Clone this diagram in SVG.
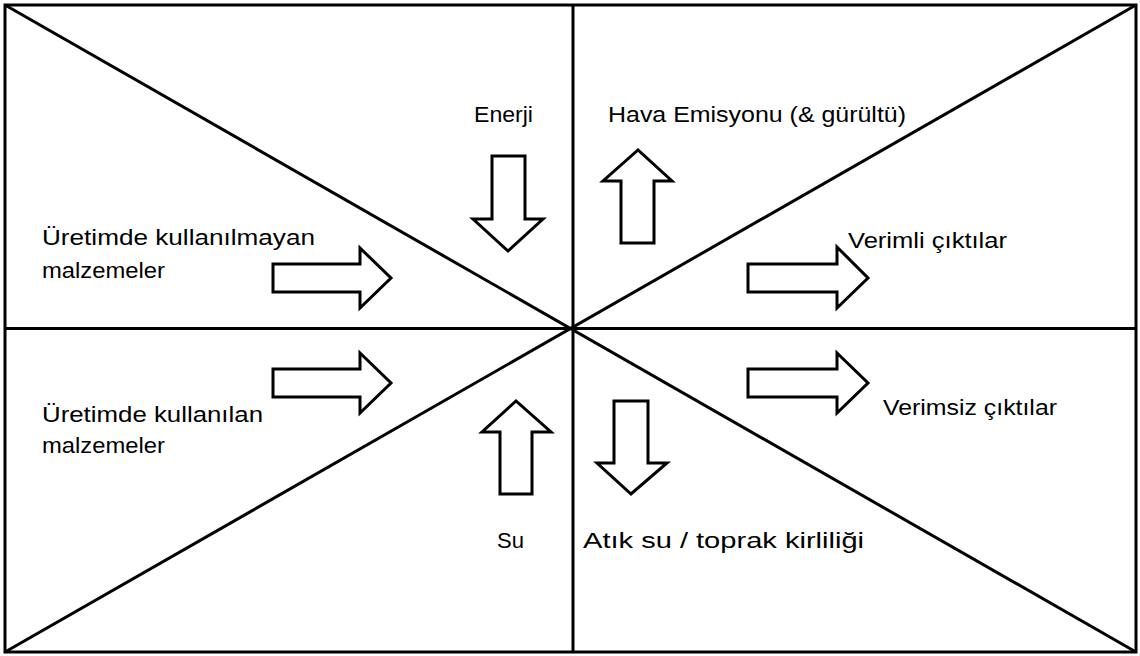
<svg xmlns="http://www.w3.org/2000/svg" width="1140" height="656" viewBox="0 0 1140 656">
<style>
.ln{stroke:#000;stroke-width:3;fill:none}
.ar{fill:#fff;stroke:#000;stroke-width:3;stroke-linejoin:miter}
.t{font-family:"Liberation Sans",Arial,sans-serif;font-size:22.5px;fill:#000}
</style>
<rect width="1140" height="656" fill="#fff"/>
<g id="connectors">
<rect class="ln" x="5" y="5" width="1131" height="647"/>
<line class="ln" x1="573" y1="5" x2="573" y2="652"/>
<line class="ln" x1="5" y1="328.5" x2="1136" y2="328.5"/>
<line class="ln" x1="5" y1="5" x2="1136" y2="652"/>
<line class="ln" x1="5" y1="652" x2="1136" y2="5"/>
</g>
<g id="n-kullanilmayan">
<polygon class="ar" points="273,264 360,264 360,248 391,278 360,308 360,292 273,292"/>
<text class="t" x="42" y="245" textLength="273" lengthAdjust="spacingAndGlyphs">Üretimde kullanılmayan</text>
<text class="t" x="42" y="278" textLength="123" lengthAdjust="spacingAndGlyphs">malzemeler</text>
</g>
<g id="n-kullanilan">
<polygon class="ar" points="273,369 360,369 360,353 391,383 360,413 360,397 273,397"/>
<text class="t" x="42" y="422" textLength="221" lengthAdjust="spacingAndGlyphs">Üretimde kullanılan</text>
<text class="t" x="42" y="453" textLength="123" lengthAdjust="spacingAndGlyphs">malzemeler</text>
</g>
<g id="n-enerji">
<polygon class="ar" points="492,156 525,156 525,219 543,219 508,251 473,219 492,219"/>
<text class="t" x="474" y="122" textLength="59" lengthAdjust="spacingAndGlyphs">Enerji</text>
</g>
<g id="n-hava">
<polygon class="ar" points="621,243 654,243 654,181 672,181 638,150 603,181 621,181"/>
<text class="t" x="608" y="122" textLength="298" lengthAdjust="spacingAndGlyphs">Hava Emisyonu (&amp; gürültü)</text>
</g>
<g id="n-verimli">
<polygon class="ar" points="748,264 837,264 837,247 868,278 837,308 837,292 748,292"/>
<text class="t" x="848" y="248" textLength="159" lengthAdjust="spacingAndGlyphs">Verimli çıktılar</text>
</g>
<g id="n-verimsiz">
<polygon class="ar" points="748,369 837,369 837,353 868,383 837,413 837,397 748,397"/>
<text class="t" x="883" y="415" textLength="174" lengthAdjust="spacingAndGlyphs">Verimsiz çıktılar</text>
</g>
<g id="n-su">
<polygon class="ar" points="500,494 532,494 532,432 551,432 516,401 482,432 500,432"/>
<text class="t" x="497" y="548" textLength="27" lengthAdjust="spacingAndGlyphs">Su</text>
</g>
<g id="n-atik">
<polygon class="ar" points="614,401 648,401 648,463 667,463 631,494 597,463 614,463"/>
<text class="t" x="583" y="548" textLength="281" lengthAdjust="spacingAndGlyphs">Atık su / toprak kirliliği</text>
</g>
</svg>
